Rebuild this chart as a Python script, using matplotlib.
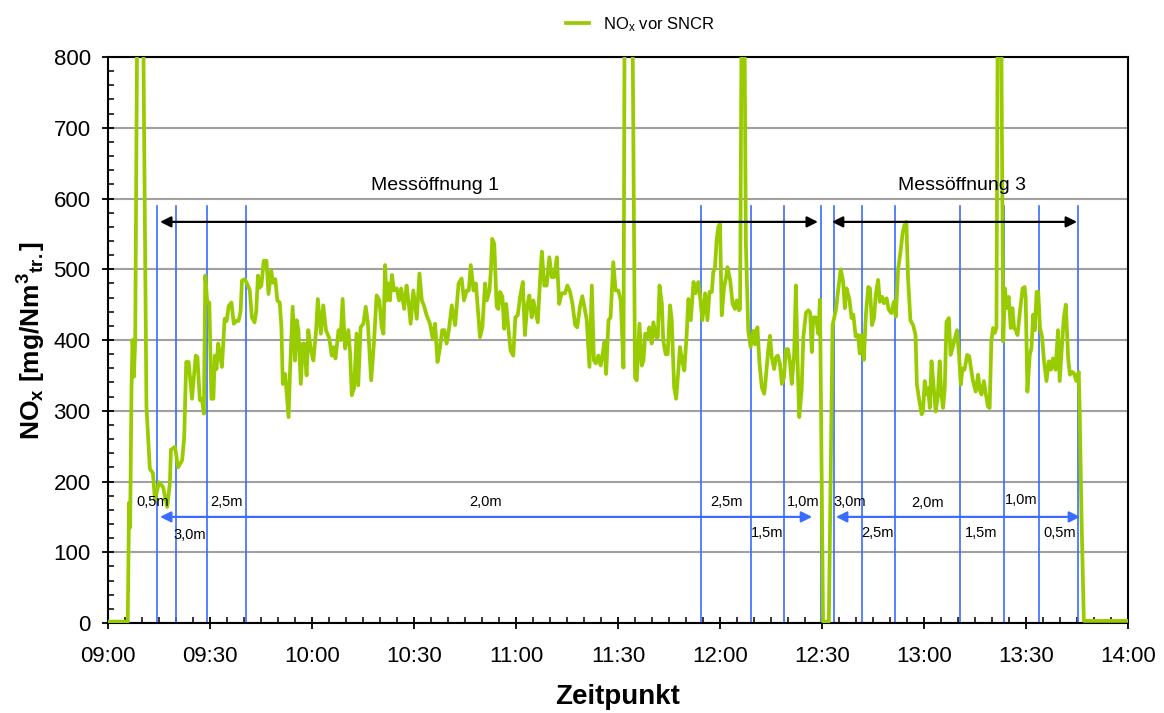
import matplotlib
matplotlib.use("Agg")
import matplotlib.pyplot as plt
from matplotlib.ticker import MultipleLocator

plt.rcParams['font.family'] = ['Liberation Sans', 'DejaVu Sans']
plt.rcParams['mathtext.fontset'] = 'custom'
plt.rcParams['mathtext.rm'] = 'Liberation Sans'
plt.rcParams['mathtext.bf'] = 'Liberation Sans:bold'
plt.rcParams['mathtext.it'] = 'Liberation Sans:italic'

# NOx before SNCR, minutes after 09:00 and mg/Nm3 (spikes run off the top)
minutes = [
    0, 5.8, 6.2, 6.5, 6.9, 7.2, 7.6, 8.0, 8.9, 9.9, 11.3, 12.3, 13.2, 13.8, 15.0,
    16.2, 17.4, 18.2, 18.5, 19.7, 20.6, 21.8, 22.4, 23.0, 23.7, 24.7, 25.8, 26.3,
    27.0, 27.6, 28.2, 28.6, 29.2, 29.8, 30.4, 31.0, 31.4, 31.9, 32.4, 32.9, 33.5,
    34.3, 34.9, 35.5, 36.3, 37.0, 37.7, 38.4, 39.0, 39.4, 40.2, 41.0, 41.7, 42.3,
    43.1, 43.6, 44.1, 44.6, 45.1, 45.8, 46.6, 47.2, 48.0, 48.5, 49.2, 49.8, 50.5,
    51.0, 51.4, 52.1, 53.1, 53.5, 54.3, 55.0, 55.5, 56.0, 56.7, 57.3, 57.7, 58.4,
    58.9, 59.7, 60.4, 61.2, 61.7, 62.6, 63.3, 64.1, 65.1, 65.8, 66.3, 66.9, 67.8,
    68.4, 69.0, 69.7, 70.7, 71.2, 71.7, 72.4, 73.1, 73.6, 74.3, 75.1, 75.8, 76.4,
    76.9, 77.4, 78.2, 79.0, 79.8, 80.5, 81.0, 81.5, 81.9, 82.5, 82.9, 83.5, 84.1,
    84.9, 85.6, 86.2, 87.1, 87.8, 88.4, 89.0, 89.8, 90.8, 91.6, 92.3, 92.9, 93.7,
    94.7, 95.5, 96.2, 96.9, 97.6, 98.3, 98.9, 99.6, 100.3, 101.1, 102.1, 103.1,
    104.0, 104.7, 105.5, 106.1, 106.7, 107.5, 108.2, 109.4, 110.1, 110.9, 111.4,
    112.2, 112.6, 113.0, 113.6, 114.3, 114.8, 115.3, 116.0, 116.5, 117.1, 117.8,
    118.4, 119.2, 119.8, 120.5, 121.2, 122.0, 122.6, 123.3, 123.9, 124.6, 125.1,
    125.9, 126.4, 127.1, 127.6, 128.3, 129.0, 129.8, 130.5, 131.2, 132.0, 132.7,
    133.4, 134.4, 135.1, 135.9, 136.6, 137.4, 138.0, 138.8, 139.5, 140.3, 140.8,
    141.6, 142.3, 142.9, 143.5, 144.2, 144.9, 145.5, 146.0, 146.5, 147.2, 147.8,
    148.6, 149.3, 150.1, 150.8, 151.6, 152.1, 153.9, 155.0, 155.5, 156.3, 157.0,
    157.5, 158.0, 158.7, 159.2, 159.9, 160.4, 161.2, 161.7, 162.2, 162.9, 163.3,
    164.0, 164.6, 165.3, 165.8, 166.5, 167.1, 167.8, 168.2, 169.0, 169.5, 170.2,
    170.7, 171.4, 172.2, 172.8, 173.6, 174.1, 174.8, 175.6, 176.3, 176.9, 177.6,
    178.0, 178.5, 179.0, 179.5, 180.0, 180.5, 181.2, 181.8, 182.2, 183.0, 183.7,
    184.4, 184.9, 185.6, 185.9, 186.5, 187.0, 187.6, 188.3, 189.0, 189.8, 190.3,
    191.0, 191.6, 192.3, 193.0, 193.4, 194.2, 194.7, 195.2, 195.9, 196.5, 197.0,
    197.6, 198.2, 198.8, 199.4, 200.0, 200.6, 201.1, 201.8, 202.3, 202.8, 203.3,
    204.0, 204.5, 205.3, 206.0, 206.5, 207.0, 207.4, 208.2, 208.9, 209.4, 210.3,
    212.0, 213.1, 214.1, 214.8, 215.5, 216.2, 216.7, 217.2, 218.0, 218.7, 219.2,
    219.9, 220.6, 221.1, 221.6, 222.3, 222.9, 223.6, 224.1, 224.7, 225.3, 225.8,
    226.5, 227.0, 227.7, 228.2, 229.0, 229.6, 230.4, 231.1, 231.7, 232.4, 233.1,
    233.7, 234.2, 234.8, 235.3, 236.0, 236.8, 237.5, 237.9, 238.5, 239.3, 239.7,
    240.2, 240.7, 241.2, 241.7, 242.2, 242.7, 243.4, 244.0, 244.6, 245.1, 245.6,
    246.1, 246.6, 247.3, 247.8, 248.4, 249.1, 249.7, 250.3, 250.8, 251.3, 251.9,
    252.7, 253.3, 253.8, 254.4, 255.2, 255.9, 256.4, 256.9, 257.6, 258.2, 258.8,
    259.3, 259.8, 260.3, 260.8, 261.3, 261.8, 262.5, 263.3, 263.8, 264.2, 264.9,
    265.5, 266.0, 266.5, 267.0, 267.5, 268.2, 269.0, 269.6, 269.9, 270.4, 271.1,
    271.6, 272.1, 272.6, 273.1, 273.6, 274.1, 274.7, 275.3, 276.0, 276.7, 277.3,
    277.9, 278.7, 279.4, 279.9, 280.4, 281.1, 281.7, 282.4, 282.9, 283.5, 284.1,
    284.8, 285.5, 285.8, 286.3, 287.0, 300,
]
nox = [
    2, 2, 170, 135, 330, 400, 348, 400, 1100, 1100, 306, 218, 212, 174, 199,
    192, 164, 198, 245, 249, 220, 230, 262, 369, 369, 317, 378, 376,
    315, 317, 296, 491, 453, 453, 317, 317, 378, 359, 395, 381, 362,
    430, 427, 448, 453, 423, 427, 427, 441, 484, 486, 479, 470, 432,
    425, 441, 491, 474, 477, 512, 512, 465, 498, 481, 486, 456, 453,
    418, 338, 352, 291, 352, 447, 371, 428, 414, 338, 395, 395, 350,
    414, 385, 371, 414, 458, 409, 449, 414, 402, 378, 390, 374, 414,
    400, 458, 388, 414, 381, 322, 333, 409, 336, 418, 423, 447, 425,
    385, 343, 395, 463, 456, 418, 409, 506, 456, 480, 456, 492, 470,
    473, 456, 473, 444, 477, 454, 423, 470, 430, 494, 456, 449, 435,
    423, 402, 423, 369, 388, 414, 414, 395, 416, 449, 421, 480,
    487, 456, 470, 470, 506, 470, 480, 404, 418, 480, 456,
    470, 499, 543, 536, 447, 444, 468, 461, 416, 451, 414,
    385, 378, 432, 435, 461, 482, 407, 449, 463, 432, 456,
    437, 425, 487, 525, 477, 477, 517, 489, 489, 517, 451,
    466, 466, 477, 468, 451, 421, 418, 447, 462, 442, 428,
    362, 477, 371, 367, 378, 364, 381, 397, 352, 428, 432,
    510, 470, 470, 456, 361, 1100, 1100, 347, 343, 423, 364,
    371, 409, 404, 418, 395, 425, 404, 404, 477, 451, 399,
    380, 380, 449, 428, 333, 317, 361, 390, 367, 357, 409,
    458, 428, 482, 466, 482, 463, 428, 466, 428, 468, 468,
    496, 501, 541, 560, 565, 435, 475, 489, 503, 484, 451,
    444, 456, 442, 444, 1000, 1000, 536, 413, 390, 413, 394,
    418, 367, 333, 324, 343, 387, 406, 376, 359, 376, 378,
    367, 338, 347, 387, 387, 367, 338, 380, 477, 371, 291,
    329, 404, 439, 442, 439, 383, 432, 432, 409, 457, 2,
    2, 421, 443, 473, 500, 483, 445, 473, 459, 431, 436,
    405, 407, 381, 407, 372, 436, 475, 473, 421, 431, 464,
    485, 454, 461, 452, 459, 443, 438, 454, 433, 501, 525,
    551, 562, 567, 487, 428, 421, 407, 337, 318, 295, 299,
    342, 323, 332, 304, 370, 342, 299, 318, 370, 323, 304,
    332, 426, 431, 379, 389, 403, 414, 379, 337, 360, 358,
    379, 377, 360, 342, 327, 351, 330, 323, 342, 323, 306,
    304, 398, 417, 410, 417, 1000, 1000, 398, 473, 445, 461,
    417, 445, 417, 414, 407, 440, 473, 475, 459, 327, 379,
    389, 436, 414, 468, 468, 417, 405, 370, 342, 370, 358,
    374, 358, 414, 342, 379, 431, 450, 374, 351, 355, 353,
    342, 355, 295, 154, 3, 3,
]

# probe positions (minutes after 09:00)
probe_changes = [14.4, 20.0, 29.1, 40.6, 174.4, 189.1, 198.8, 209.6,
                 213.5, 221.8, 231.5, 250.6, 263.5, 273.8, 285.4]
probe_depths = ['0,5m', '3,0m', '2,5m', '2,0m', '2,5m', '1,5m', '1,0m',
                '3,0m', '2,5m', '2,0m', '1,5m', '1,0m', '0,5m']
depth_x = [13.2, 24.1, 34.7, 110.9, 181.8, 193.8, 204.4,
           218.2, 226.2, 240.9, 256.8, 268.5, 280.0]
depth_y = [171, 124, 171, 171, 171, 127, 171,
           171, 127, 170, 127, 174, 127]

openings = ['Messöffnung 1', 'Messöffnung 3']
opening_x = [96.2, 251.2]
opening_spans = [(15.3, 208.8), (212.9, 285.0)]
traverse_spans = [(15.3, 207.1), (214.1, 285.9)]

tick_labels = ['09:00', '09:30', '10:00', '10:30', '11:00', '11:30',
               '12:00', '12:30', '13:00', '13:30', '14:00']

fig = plt.figure(figsize=(11.64, 7.13), dpi=100)
ax = fig.add_axes([0.0928, 0.1262, 0.8763, 0.7938])

ax.grid(axis='y', color='#a0a0a0', linewidth=1.5, zorder=0)
ax.set_axisbelow(True)

for x in probe_changes:
    ax.plot([x, x], [0, 590], color='#3a6cff', linewidth=1.2, zorder=2)

ax.plot(minutes, nox, color='#99cc00', linewidth=2.7, zorder=3,
        label=r'NO$_{\rm x}$ vor SNCR')

for name, tx, (a, b) in zip(openings, opening_x, opening_spans):
    ax.annotate('', xy=(a, 567), xytext=(b, 567),
                arrowprops=dict(arrowstyle='<|-|>', color='black', lw=1.6,
                                mutation_scale=16, shrinkA=0, shrinkB=0),
                zorder=4)
    ax.text(tx, 618, name, ha='center', va='center', fontsize=14)

for a, b in traverse_spans:
    ax.annotate('', xy=(a, 150), xytext=(b, 150),
                arrowprops=dict(arrowstyle='<|-|>', color='#3a6cff', lw=1.6,
                                mutation_scale=16, shrinkA=0, shrinkB=0),
                zorder=4)

for lab, x, y in zip(probe_depths, depth_x, depth_y):
    ax.text(x, y, lab, ha='center', va='center', fontsize=10.5, zorder=5)

ax.set_xlim(0, 300)
ax.set_ylim(0, 800)
ax.set_xticks(range(0, 301, 30))
ax.set_xticklabels(tick_labels)
ax.xaxis.set_minor_locator(MultipleLocator(5))
ax.yaxis.set_major_locator(MultipleLocator(100))
ax.yaxis.set_minor_locator(MultipleLocator(20))
ax.tick_params(which='major', direction='inout', length=9, width=1.3,
               labelsize=16)
ax.tick_params(axis='x', which='major', pad=12)
ax.tick_params(axis='y', which='major', pad=8)
ax.tick_params(which='minor', direction='in', length=4, width=1.1)
for s in ax.spines.values():
    s.set_linewidth(1.5)

ax.set_xlabel('Zeitpunkt', fontsize=20, fontweight='bold', labelpad=12)
ax.set_ylabel(r'$\mathbf{NO_x\ [mg/Nm^{3}{}_{tr.}]}$', fontsize=19,
              labelpad=4)

fig.legend(loc='upper center', bbox_to_anchor=(0.55, 1.0), frameon=False,
           fontsize=12, handlelength=1.4)

fig.savefig('out.png', dpi=100)
